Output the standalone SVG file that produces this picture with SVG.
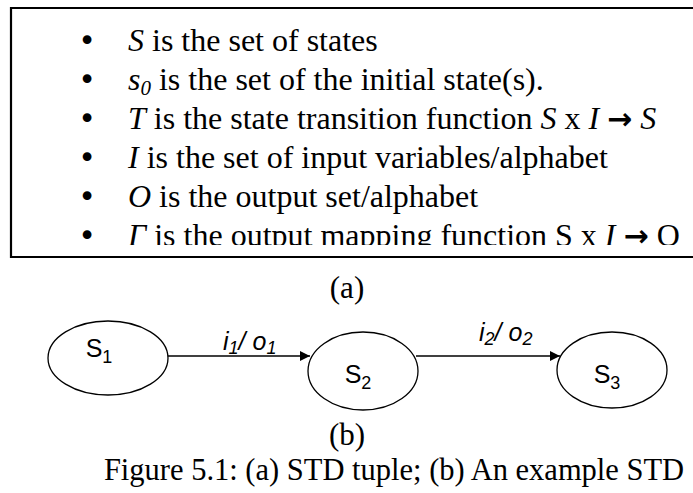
<svg xmlns="http://www.w3.org/2000/svg" width="693" height="493" viewBox="0 0 693 493">
<style>
.serif{font-family:"Liberation Serif","Times New Roman",serif;font-size:32px;fill:#000}
.cap{font-family:"Liberation Serif","Times New Roman",serif;font-size:31px;fill:#000}
.it{font-style:italic}
.bul{font-family:"DejaVu Sans",sans-serif;font-size:30px;fill:#000}
.arr{font-family:"DejaVu Sans",sans-serif;font-weight:bold;font-size:30px}
.node ellipse{fill:#fff;stroke:#000;stroke-width:1.3}
.lbl{font-family:"Liberation Sans",Arial,sans-serif;font-size:25px;fill:#000}
.sub{font-size:18px}
.edge{stroke:#000;stroke-width:1.5;fill:none;marker-end:url(#ah)}
</style>
<defs>
<marker id="ah" viewBox="0 0 10 10" refX="10" refY="5" markerUnits="userSpaceOnUse" markerWidth="11" markerHeight="10" orient="auto">
<path d="M0,0 L10,5 L0,10 z" fill="#000"/>
</marker>
<clipPath id="boxclip"><rect x="0" y="0" width="693" height="245"/></clipPath>
</defs>
<rect width="693" height="493" fill="#fff"/>
<g id="tuple-box">
<path d="M693,8 H11 V257 H693" fill="none" stroke="#000" stroke-width="2.2"/>
<g clip-path="url(#boxclip)" xml:space="preserve">
<text class="bul" x="87" y="51" text-anchor="middle">•</text>
<text class="serif" x="128" y="51"><tspan class="it">S</tspan> is the set of states</text>
<text class="bul" x="87" y="90" text-anchor="middle">•</text>
<text class="serif" x="128" y="90"><tspan class="it">s</tspan><tspan class="it" style="font-size:21px" dy="5">0</tspan><tspan dy="-5"> is the set of the initial state(s).</tspan></text>
<text class="bul" x="87" y="129" text-anchor="middle">•</text>
<text class="serif" x="128" y="129"><tspan class="it">T</tspan> is the state transition function <tspan class="it">S</tspan> x <tspan class="it">I</tspan> <tspan class="arr">→</tspan> <tspan class="it">S</tspan></text>
<text class="bul" x="87" y="168" text-anchor="middle">•</text>
<text class="serif" x="128" y="168"><tspan class="it">I</tspan> is the set of input variables/alphabet</text>
<text class="bul" x="87" y="207" text-anchor="middle">•</text>
<text class="serif" x="128" y="207"><tspan class="it">O</tspan> is the output set/alphabet</text>
<text class="bul" x="87" y="246" text-anchor="middle">•</text>
<text class="serif" x="128" y="246"><tspan class="it">Γ</tspan> is the output mapping function S x <tspan class="it">I</tspan> <tspan class="arr">→</tspan> O</text>
</g>
</g>
<text class="cap" x="347" y="298" text-anchor="middle">(a)</text>
<g id="connectors">
<line class="edge" x1="168" y1="356" x2="310" y2="356"/>
<line class="edge" x1="416" y1="356" x2="560" y2="356"/>
<text class="lbl it" x="223" y="350">i<tspan class="sub" dy="4">1</tspan><tspan dy="-4">/ o</tspan><tspan class="sub" dy="4">1</tspan></text>
<text class="lbl it" x="479" y="341">i<tspan class="sub" dy="4">2</tspan><tspan dy="-4">/ o</tspan><tspan class="sub" dy="4">2</tspan></text>
</g>
<g id="S1" class="node">
<ellipse cx="108" cy="358" rx="60" ry="37"/>
<text class="lbl" x="99" y="357" text-anchor="middle">S<tspan class="sub" dy="6">1</tspan></text>
</g>
<g id="S2" class="node">
<ellipse cx="363" cy="371" rx="55" ry="39"/>
<text class="lbl" x="358" y="383" text-anchor="middle">S<tspan class="sub" dy="6">2</tspan></text>
</g>
<g id="S3" class="node">
<ellipse cx="612" cy="370" rx="55" ry="38"/>
<text class="lbl" x="607" y="383" text-anchor="middle">S<tspan class="sub" dy="6">3</tspan></text>
</g>
<text class="cap" x="347" y="445" text-anchor="middle">(b)</text>
<text class="cap" x="394" y="480" text-anchor="middle" style="font-size:30.5px">Figure 5.1: (a) STD tuple; (b) An example STD</text>
</svg>
